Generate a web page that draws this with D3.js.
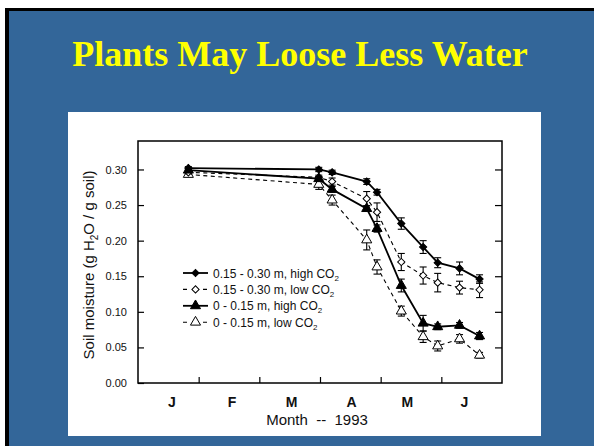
<!DOCTYPE html>
<html>
<head>
<meta charset="utf-8">
<script src="https://cdn.jsdelivr.net/npm/d3@7"></script>
<style>
  body { margin: 0; background: #fff; }
  svg { display: block; }
</style>
</head>
<body>
<script>
// month position of each sampling date (0 = 1 Jan, 6 = 1 Jul 1993)
const sampleMonths = [0.83, 2.98, 3.20, 3.77, 3.94, 4.34, 4.70, 4.94, 5.30, 5.63];

const deepHigh       = [0.302, 0.300, 0.296, 0.283, 0.268, 0.224, 0.191, 0.169, 0.161, 0.146];
const deepHighErr    = [0.002, 0.003, 0.003, 0.004, 0.004, 0.008, 0.009, 0.007, 0.009, 0.006];
const deepLow        = [0.296, 0.289, 0.283, 0.259, 0.240, 0.170, 0.151, 0.141, 0.134, 0.131];
const deepLowErr     = [0.002, 0.003, 0.005, 0.010, 0.013, 0.012, 0.012, 0.013, 0.009, 0.011];
const shallowHigh    = [0.299, 0.287, 0.272, 0.245, 0.217, 0.137, 0.084, 0.079, 0.081, 0.066];
const shallowHighErr = [0.002, 0.003, 0.004, 0.004, 0.005, 0.009, 0.011, 0.004, 0.004, 0.005];
const shallowLow     = [0.293, 0.279, 0.257, 0.201, 0.163, 0.101, 0.065, 0.052, 0.062, 0.039];
const shallowLowErr  = [0.002, 0.007, 0.007, 0.014, 0.010, 0.007, 0.008, 0.007, 0.006, 0.004];

const seriesNames = ["0.15 - 0.30 m, high CO", "0.15 - 0.30 m, low CO", "0 - 0.15 m, high CO", "0 - 0.15 m, low CO"];

const monthLabels = ["J", "F", "M", "A", "M", "J"];
const monthLabelPos = [0.56, 1.55, 2.53, 3.52, 4.44, 5.38];
const monthTicks = [1, 2, 3, 4, 5];
const yTicks = [0, 0.05, 0.10, 0.15, 0.20, 0.25, 0.30];

const W = 594, H = 446;
const plot = { left: 138, right: 502, top: 141, bottom: 383 };

const svg = d3.select("body").append("svg")
  .attr("width", W)
  .attr("height", H)
  .attr("viewBox", [0, 0, W, H]);

// slide background and frame
svg.append("rect").attr("x", 0).attr("y", 0).attr("width", W).attr("height", H).attr("fill", "#fff");
svg.append("rect").attr("x", 5).attr("y", 8).attr("width", W).attr("height", H).attr("fill", "#000");
svg.append("rect").attr("x", 9).attr("y", 11).attr("width", W).attr("height", H).attr("fill", "#336699");

svg.append("text")
  .attr("x", 300)
  .attr("y", 66)
  .attr("text-anchor", "middle")
  .attr("font-family", "'Liberation Serif', 'Times New Roman', serif")
  .attr("font-weight", "bold")
  .attr("font-size", 36)
  .attr("fill", "#ffff00")
  .text("Plants May Loose Less Water");

// white figure panel
svg.append("rect")
  .attr("x", 68).attr("y", 112)
  .attr("width", 473).attr("height", 324)
  .attr("fill", "#fff");

const x = d3.scaleLinear().domain([0, 6]).range([plot.left, plot.right]);
const y = d3.scaleLinear().domain([0, 0.34]).range([plot.bottom, plot.top]);

const font = "'Liberation Sans', Arial, Helvetica, sans-serif";

// y axis (left) with inward ticks
svg.append("g")
  .attr("transform", `translate(${plot.left},0)`)
  .call(d3.axisLeft(y).tickValues(yTicks).tickFormat(d3.format(".2f")).tickSize(-6).tickPadding(11))
  .call(g => g.select(".domain").remove())
  .call(g => g.selectAll("line").attr("stroke", "#000").attr("stroke-width", 1.2))
  .call(g => g.selectAll("text").attr("font-family", font).attr("font-size", 11).attr("fill", "#111"));

// right mirror ticks
svg.append("g")
  .attr("transform", `translate(${plot.right},0)`)
  .call(d3.axisRight(y).tickValues(yTicks.slice(1)).tickSize(-7).tickFormat(""))
  .call(g => g.select(".domain").remove())
  .call(g => g.selectAll("line").attr("stroke", "#000").attr("stroke-width", 1.2));

// x axis: month boundary ticks pointing up
svg.append("g")
  .attr("transform", `translate(0,${plot.bottom})`)
  .call(d3.axisBottom(x).tickValues(monthTicks).tickSize(-6).tickFormat(""))
  .call(g => g.select(".domain").remove())
  .call(g => g.selectAll("line").attr("stroke", "#000").attr("stroke-width", 1.2));

svg.append("g")
  .selectAll("text")
  .data(monthLabels)
  .join("text")
    .attr("x", (d, i) => x(monthLabelPos[i]))
    .attr("y", 407)
    .attr("text-anchor", "middle")
    .attr("font-family", font)
    .attr("font-weight", "bold")
    .attr("font-size", 14)
    .attr("fill", "#111")
    .text(d => d);

svg.append("text")
  .attr("x", 317)
  .attr("y", 425)
  .attr("text-anchor", "middle")
  .attr("font-family", font)
  .attr("font-size", 15)
  .attr("fill", "#111")
  .attr("xml:space", "preserve")
  .text("Month  --  1993");

// y axis title with subscript
const yTitle = svg.append("text")
  .attr("transform", `translate(94,${(plot.top + plot.bottom) / 2 + 3}) rotate(-90)`)
  .attr("text-anchor", "middle")
  .attr("font-family", font)
  .attr("font-size", 15)
  .attr("fill", "#111");
yTitle.append("tspan").text("Soil moisture (g H");
yTitle.append("tspan").attr("dy", 4).attr("font-size", 10).text("2");
yTitle.append("tspan").attr("dy", -4).text("O / g soil)");

// frame
svg.append("rect")
  .attr("x", plot.left).attr("y", plot.top)
  .attr("width", plot.right - plot.left).attr("height", plot.bottom - plot.top)
  .attr("fill", "none").attr("stroke", "#000").attr("stroke-width", 1.5);

const series = [
  { name: seriesNames[0], values: deepHigh, err: deepHighErr, shape: "diamond", filled: true, dashed: false },
  { name: seriesNames[1], values: deepLow, err: deepLowErr, shape: "diamond", filled: false, dashed: true },
  { name: seriesNames[2], values: shallowHigh, err: shallowHighErr, shape: "triangle", filled: true, dashed: false },
  { name: seriesNames[3], values: shallowLow, err: shallowLowErr, shape: "triangle", filled: false, dashed: true }
];

const line = d3.line()
  .x(d => x(d.m))
  .y(d => y(d.v));

// diamonds are squares turned 45 degrees, a bit rounder than d3.symbolDiamond
const markerPath = s => s.shape === "diamond"
  ? d3.symbol(d3.symbolSquare, 26)()
  : d3.symbol(d3.symbolTriangle, 44)();
const markerRot = s => s.shape === "diamond" ? " rotate(45)" : "";

// draw low CO2 first so high CO2 markers sit on top
[series[3], series[1], series[2], series[0]].forEach(s => {
  const pts = s.values.map((v, i) => ({ m: sampleMonths[i], v, e: s.err[i] }));
  const g = svg.append("g");

  g.append("path")
    .datum(pts)
    .attr("d", line)
    .attr("fill", "none")
    .attr("stroke", "#000")
    .attr("stroke-width", s.dashed ? 1.1 : 1.8)
    .attr("stroke-dasharray", s.dashed ? "4,3.5" : null);

  const eb = g.selectAll(".eb").data(pts).join("g").attr("class", "eb");
  eb.append("line")
    .attr("x1", d => x(d.m)).attr("x2", d => x(d.m))
    .attr("y1", d => y(d.v - d.e)).attr("y2", d => y(d.v + d.e))
    .attr("stroke", "#000").attr("stroke-width", 1.1);
  [-1, 1].forEach(sign => {
    eb.append("line")
      .attr("x1", d => x(d.m) - 3.5).attr("x2", d => x(d.m) + 3.5)
      .attr("y1", d => y(d.v + sign * d.e)).attr("y2", d => y(d.v + sign * d.e))
      .attr("stroke", "#000").attr("stroke-width", 1.1);
  });

  g.selectAll("path.mk").data(pts).join("path")
    .attr("class", "mk")
    .attr("transform", d => `translate(${x(d.m)},${y(d.v)})${markerRot(s)}`)
    .attr("d", markerPath(s))
    .attr("fill", s.filled ? "#000" : "#fff")
    .attr("stroke", "#000")
    .attr("stroke-width", 1);
});

// legend
const legend = svg.append("g").attr("transform", "translate(183,273)");
series.forEach((s, i) => {
  const row = legend.append("g").attr("transform", `translate(0,${i * 16.4})`);
  row.append("line")
    .attr("x1", 0).attr("x2", 25).attr("y1", 0).attr("y2", 0)
    .attr("stroke", "#000")
    .attr("stroke-width", s.dashed ? 1.1 : 1.8)
    .attr("stroke-dasharray", s.dashed ? "4,6" : null);
  row.append("path")
    .attr("transform", `translate(12.5,0)${markerRot(s)}`)
    .attr("d", markerPath(s))
    .attr("fill", s.filled ? "#000" : "#fff")
    .attr("stroke", "#000");
  const t = row.append("text")
    .attr("x", 30).attr("y", 4.5)
    .attr("font-family", font)
    .attr("font-size", 12)
    .attr("fill", "#111");
  t.append("tspan").text(s.name);
  t.append("tspan").attr("dy", 3).attr("font-size", 8).text("2");
});
</script>
</body>
</html>
